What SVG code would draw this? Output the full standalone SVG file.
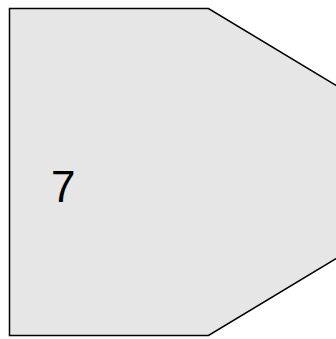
<svg xmlns="http://www.w3.org/2000/svg" width="336" height="339" viewBox="0 0 336 339">
<style>
.shape{fill:#e6e6e6;stroke:#000;stroke-width:1.5}
.lbl{font-family:"Liberation Sans",Arial,sans-serif;font-size:44px;fill:#000}
</style>
<rect width="336" height="339" fill="#fff"/>
<g id="node7">
<polygon class="shape" points="9.5,8.5 208.5,8.5 480,172 208.5,335.5 9.5,335.5"/>
<text class="lbl" x="51" y="202">7</text>
</g>
<g id="connectors"></g>
</svg>
